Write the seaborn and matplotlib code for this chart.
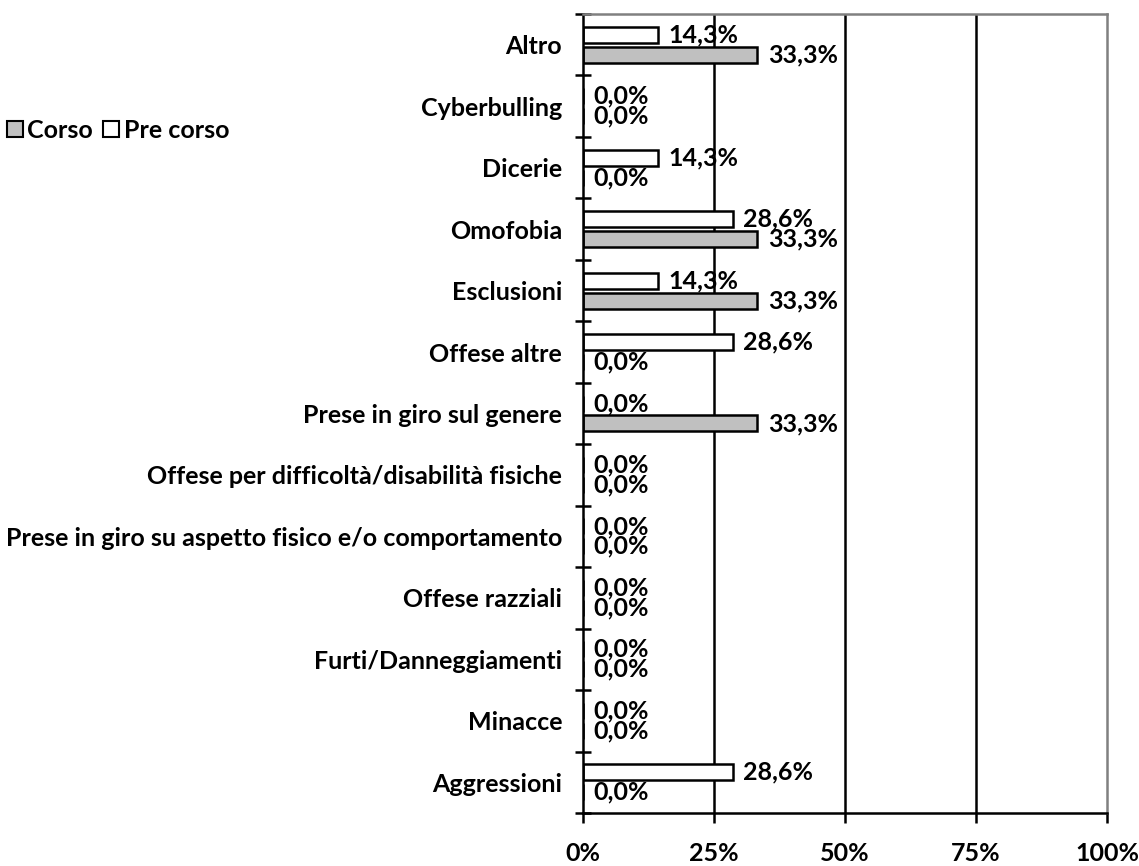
import numpy as np
import pandas as pd
import matplotlib
matplotlib.use("Agg")
import matplotlib.pyplot as plt
import seaborn as sns
from matplotlib.patches import Patch
from matplotlib.ticker import FixedLocator

categories = ["Altro", "Cyberbulling", "Dicerie", "Omofobia", "Esclusioni",
              "Offese altre", "Prese in giro sul genere",
              "Offese per difficoltà/disabilità fisiche",
              "Prese in giro su aspetto fisico e/o comportamento",
              "Offese razziali", "Furti/Danneggiamenti", "Minacce", "Aggressioni"]
pre_corso = [14.3, 0.0, 14.3, 28.6, 14.3, 28.6, 0.0, 0.0, 0.0, 0.0, 0.0, 0.0, 28.6]
corso = [33.3, 0.0, 0.0, 33.3, 33.3, 0.0, 33.3, 0.0, 0.0, 0.0, 0.0, 0.0, 0.0]
series = ["Pre corso", "Corso"]
x_ticks = [0, 25, 50, 75, 100]
x_labels = ["0%", "25%", "50%", "75%", "100%"]

df = pd.DataFrame({
    "Categoria": categories * 2,
    "Serie": [series[0]] * len(categories) + [series[1]] * len(categories),
    "Valore": pre_corso + corso,
})

sns.set_style("white")
plt.rcParams['font.family'] = ['Lato', 'DejaVu Sans']
plt.rcParams['font.weight'] = 'bold'
plt.rcParams['text.color'] = 'black'
plt.rcParams['xtick.color'] = 'black'
plt.rcParams['ytick.color'] = 'black'
plt.rcParams['xtick.labelcolor'] = 'black'
plt.rcParams['ytick.labelcolor'] = 'black'
FS = 18

fig = plt.figure(figsize=(11.39, 8.66), dpi=100)
ax = fig.add_axes([583/1139, 1-813/866, (1107-583)/1139, (813-14)/866])

colors = {"Pre corso": "#FFFFFF", "Corso": "#C0C0C0"}
sns.barplot(data=df, y="Categoria", x="Valore", hue="Serie", hue_order=series,
            order=categories, orient="h", palette=colors, width=0.65, gap=0.2,
            edgecolor="black", linewidth=1.8, ax=ax, legend=False, saturation=1)

for cont in ax.containers:
    for bar in cont:
        v = bar.get_width()
        yc = bar.get_y() + bar.get_height() / 2
        ax.annotate(f"{v:.1f}%".replace(".", ","), xy=(v, yc),
                    xytext=(7.5, 0), textcoords="offset points",
                    ha="left", va="center", fontsize=FS, fontweight="bold",
                    color="black")

ax.set_xlim(0, 100)
ax.set_ylim(len(categories) - 0.5, -0.5)
ax.set_xticks(x_ticks)
ax.set_xticklabels(x_labels, fontsize=FS, fontweight="bold")
ax.tick_params(axis="x", direction="out", length=7, width=1.8, pad=14, bottom=True)
ax.set_yticks(range(len(categories)))
ax.set_yticklabels(categories, fontsize=FS, fontweight="bold")
ax.tick_params(axis="y", which="major", length=0, pad=15)
ax.yaxis.set_minor_locator(FixedLocator(np.arange(-0.5, len(categories), 1.0)))
ax.tick_params(axis="y", which="minor", direction="inout", length=12, width=1.8, left=True)
ax.set_xlabel("")
ax.set_ylabel("")

for xv in [25, 50, 75]:
    ax.axvline(xv, color="black", lw=1.8, zorder=0)
for s in ["left", "bottom"]:
    ax.spines[s].set_color("black")
    ax.spines[s].set_linewidth(1.8)
for s in ["top", "right"]:
    ax.spines[s].set_visible(True)
    ax.spines[s].set_color("#808080")
    ax.spines[s].set_linewidth(1.8)

handles = [Patch(facecolor=colors["Corso"], edgecolor="black", lw=1.5, label="Corso"),
           Patch(facecolor=colors["Pre corso"], edgecolor="black", lw=1.5, label="Pre corso")]
fig.legend(handles=handles, loc="center left", bbox_to_anchor=(7/1139, 1-130/866),
           ncol=2, frameon=False, handlelength=0.62, handleheight=0.62, borderpad=0,
           borderaxespad=0, handletextpad=0.2, columnspacing=0.4,
           prop={"weight": "bold", "size": FS})

fig.savefig("out.png", dpi=100)
